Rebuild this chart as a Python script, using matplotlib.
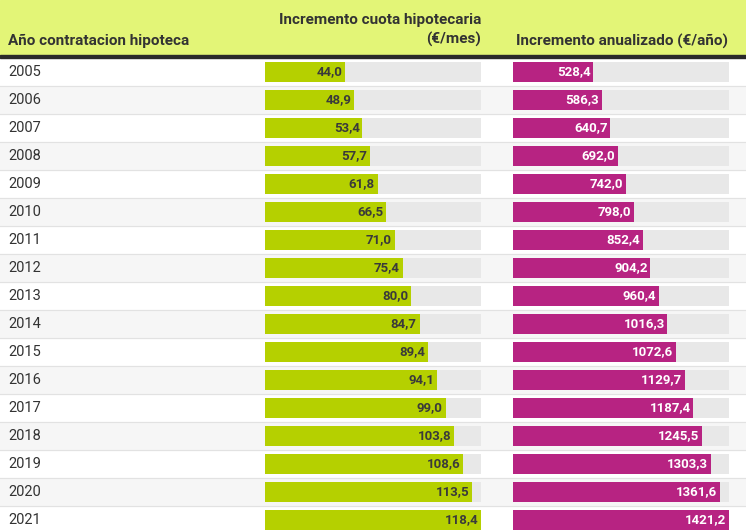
import matplotlib
matplotlib.use("Agg")
import matplotlib.pyplot as plt
from matplotlib.patches import Rectangle

plt.rcParams['font.family'] = ['Roboto', 'DejaVu Sans']

years = list(range(2005, 2022))
cuota_mes = [44.0, 48.9, 53.4, 57.7, 61.8, 66.5, 71.0, 75.4, 80.0, 84.7,
             89.4, 94.1, 99.0, 103.8, 108.6, 113.5, 118.4]
anual = [528.4, 586.3, 640.7, 692.0, 742.0, 798.0, 852.4, 904.2, 960.4,
         1016.3, 1072.6, 1129.7, 1187.4, 1245.5, 1303.3, 1361.6, 1421.2]
header_year = "Año contratacion hipoteca"
header_mes = "Incremento cuota hipotecaria\n(€/mes)"
header_anual = "Incremento anualizado (€/año)"

W, H = 746, 531
fig = plt.figure(figsize=(W / 100, H / 100), dpi=100)

# background axes in pixel coordinates
bg = fig.add_axes([0, 0, 1, 1])
bg.set_xlim(0, W)
bg.set_ylim(H, 0)
bg.axis('off')

header_h = 55
row_top = 58
row_h = 28
header_color = '#e3f577'
text_color = '#333333'

bg.add_patch(Rectangle((0, 0), W, header_h, color=header_color, zorder=0))
bg.add_patch(Rectangle((0, header_h), W, 2.5, color='#2a2a2a', zorder=1))

for i, y in enumerate(years):
    top = row_top + i * row_h
    if i % 2 == 1:
        bg.add_patch(Rectangle((0, top), W, row_h, color='#f6f6f6', zorder=0))
    if i > 0:
        bg.plot([0, W], [top, top], color='#e2e2e2', lw=0.8, zorder=1)
    bg.text(8, top + row_h / 2, str(y), ha='left', va='center',
            fontsize=10.5, color=text_color)

bg.text(8, 41, header_year, ha='left', va='center', fontsize=11,
        fontweight='bold', color=text_color)
bg.text(481, 30, header_mes, ha='right', va='center', fontsize=11,
        fontweight='bold', color=text_color, linespacing=1.4)
bg.text(516, 41, header_anual, ha='left', va='center', fontsize=11,
        fontweight='bold', color=text_color)


def bar_axes(x0, width, values, color, label_color):
    ax = fig.add_axes([x0 / W, 0, width / W, 1])
    ax.set_ylim(H, 0)
    vmax = max(values)
    ax.set_xlim(0, vmax)
    ax.axis('off')
    ax.patch.set_alpha(0)
    ys = [row_top + i * row_h + row_h / 2 for i in range(len(values))]
    ax.barh(ys, [vmax] * len(values), height=20, left=0, color='#e8e8e8', zorder=1)
    ax.barh(ys, values, height=20, left=0, color=color, zorder=2)
    for yy, v in zip(ys, values):
        ax.annotate(f"{v:.1f}".replace('.', ','), (v, yy), xytext=(-2, 0),
                    textcoords='offset points', ha='right', va='center',
                    fontsize=9.5, fontweight='bold', color=label_color, zorder=3)
    return ax


bar_axes(265, 216, cuota_mes, '#b5d000', '#3a3a3a')
bar_axes(513, 216, anual, '#b72382', 'white')

fig.savefig('out.png', dpi=100)
